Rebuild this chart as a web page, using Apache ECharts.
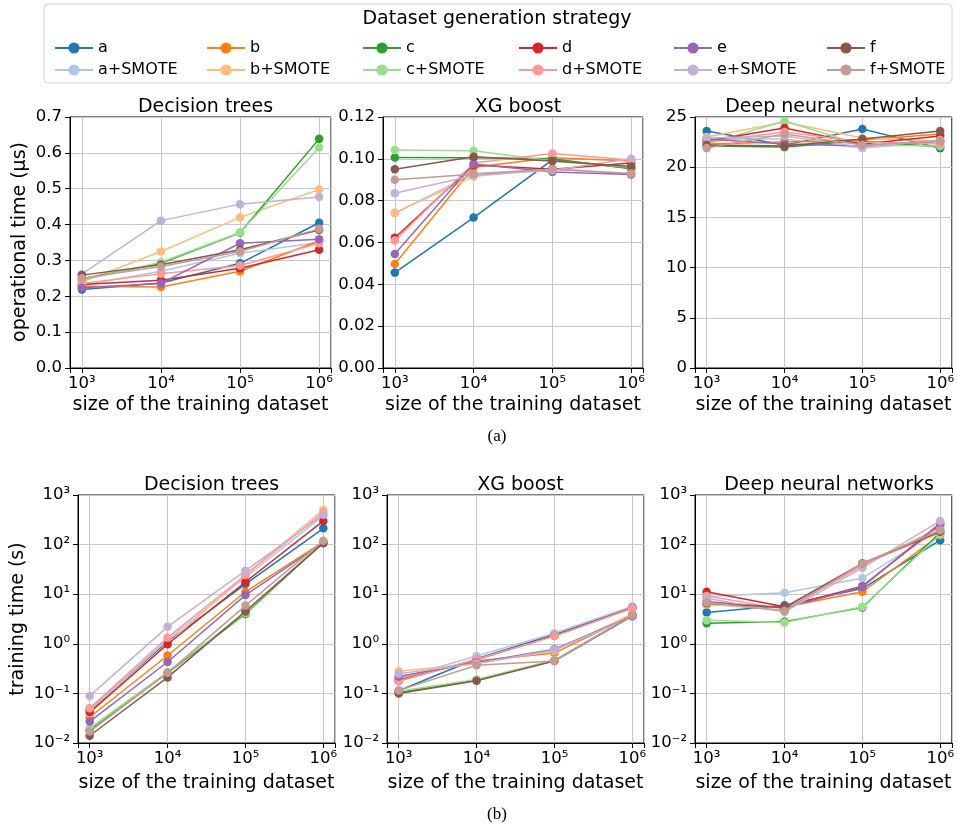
<!DOCTYPE html>
<html><head><meta charset="utf-8">
<script src="https://cdn.jsdelivr.net/npm/echarts@6/dist/echarts.min.js"></script>
<style>html,body{margin:0;padding:0;background:#fff}#c{width:957px;height:828px}</style>
</head><body><div id="c"></div>
<script>
const seriesNames = ['a','a+SMOTE','b','b+SMOTE','c','c+SMOTE','d','d+SMOTE','e','e+SMOTE','f','f+SMOTE'];
const colors = ['#1f77b4','#aec7e8','#ff7f0e','#ffbb78','#2ca02c','#98df8a','#d62728','#ff9896','#9467bd','#c5b0d5','#8c564b','#c49c94'];
const sizes = [1e3, 1e4, 1e5, 1e6];
const panelTitles = ['Decision trees','XG boost','Deep neural networks'];

// operational time (µs)
const opDT = [
  [0.219,0.237,0.292,0.405],[0.230,0.270,0.320,0.350],
  [0.228,0.226,0.270,0.355],[0.240,0.325,0.420,0.498],
  [0.248,0.292,0.377,0.639],[0.245,0.295,0.378,0.615],
  [0.233,0.245,0.278,0.330],[0.236,0.263,0.286,0.348],
  [0.224,0.236,0.348,0.359],[0.262,0.411,0.457,0.477],
  [0.259,0.288,0.330,0.385],[0.250,0.283,0.325,0.388]
];
const opXG = [
  [0.0456,0.0719,0.0995,0.0955],[0.0740,0.0930,0.0950,0.0930],
  [0.0497,0.0960,0.1005,0.0990],[0.0742,0.0915,0.0955,0.0925],
  [0.1006,0.1005,0.1000,0.0952],[0.1042,0.1039,0.0990,0.0960],
  [0.0623,0.0970,0.0950,0.0980],[0.0609,0.0980,0.1026,0.0995],
  [0.0545,0.0975,0.0937,0.0925],[0.0835,0.0920,0.0945,0.1000],
  [0.0950,0.1010,0.0990,0.0963],[0.0900,0.0926,0.0950,0.0930]
];
const opDNN = [
  [23.6,22.2,23.8,21.9],[22.8,22.8,21.9,22.5],
  [22.3,22.5,22.7,23.3],[23.0,24.5,22.9,22.6],
  [22.1,22.0,22.6,22.0],[22.3,24.6,22.2,22.1],
  [22.6,23.9,22.3,23.1],[22.5,23.5,22.5,22.3],
  [22.8,22.3,22.1,22.6],[22.9,23.1,22.0,22.7],
  [22.2,22.1,22.8,23.6],[21.9,23.3,22.2,22.6]
];
// training time (s)
const trDT = [
  [0.048,1.1,16,213],[0.046,1.2,22,380],
  [0.033,0.58,11.2,113],[0.040,1.0,25,500],
  [0.018,0.26,4.0,110],[0.020,0.27,4.2,115],
  [0.042,0.98,17.6,300],[0.050,1.33,24.4,440],
  [0.027,0.43,9.6,110],[0.089,2.2,29.8,400],
  [0.014,0.21,4.5,107],[0.017,0.26,5.9,120]
];
const trXG = [
  [0.113,0.50,1.55,5.5],[0.20,0.57,1.63,5.7],
  [0.19,0.45,0.65,3.8],[0.28,0.40,0.72,4.0],
  [0.105,0.186,0.46,3.6],[0.11,0.19,0.47,3.7],
  [0.18,0.48,1.45,5.3],[0.175,0.49,1.43,5.2],
  [0.22,0.42,0.78,3.6],[0.25,0.40,0.75,3.5],
  [0.10,0.18,0.45,3.7],[0.115,0.37,0.45,3.8]
];
const trDNN = [
  [4.3,6.0,13,123],[9.0,10.7,21,200],
  [6.2,5.5,11.2,155],[6.3,4.8,40,170],
  [2.6,2.8,5.4,175],[3.0,2.7,5.6,160],
  [11.2,5.6,14.5,250],[9.2,5.0,37,220],
  [7.1,5.3,14,270],[8.3,4.4,34,300],
  [6.6,5.4,42,182],[6.8,4.6,41.6,195]
];
const topYMax = [0.7, 0.12, 25];
const topYInterval = [0.1, 0.02, 5];
const topYDecimals = [1, 2, 0];

const FONT = 'DejaVu Sans';
const sup = {'-':'⁻','0':'⁰','1':'¹','2':'²','3':'³','4':'⁴','5':'⁵','6':'⁶','7':'⁷','8':'⁸','9':'⁹'};
function powLabel(v){
  const e = Math.log10(v);
  const r = Math.round(e);
  if (Math.abs(e - r) > 1e-6) return '';
  return '10' + String(r).split('').map(c => sup[c]).join('');
}

const grids = [
  {left:70, top:117, width:261, height:251},
  {left:383, top:117, width:260, height:251},
  {left:695, top:117, width:260, height:251},
  {left:78, top:495, width:257, height:248},
  {left:387, top:495, width:257, height:248},
  {left:695, top:495, width:258, height:248}
];
const panelData = [opDT, opXG, opDNN, trDT, trXG, trDNN];

const axisCommon = {
  axisLine:{show:true, lineStyle:{color:'#000', width:1}},
  axisTick:{show:true, inside:false, length:5, lineStyle:{color:'#000', width:1}},
  splitLine:{show:true, lineStyle:{color:'#c8c8c8', width:1}},
  axisLabel:{color:'#000', fontFamily:FONT, fontSize:16.5}
};

const xAxes = [], yAxes = [], titles = [], series = [];
grids.forEach((g, p) => {
  const bottomRow = p >= 3;
  xAxes.push(Object.assign({}, axisCommon, {
    gridIndex:p, type:'log', logBase:10,
    min:Math.pow(10,2.85), max:Math.pow(10,6.15),
    axisLabel:Object.assign({}, axisCommon.axisLabel, {margin:7, formatter:powLabel, showMinLabel:true, showMaxLabel:true}),
    name:'size of the training dataset', nameLocation:'middle', nameGap: bottomRow ? 31 : 28,
    nameTextStyle:{color:'#000', fontFamily:FONT, fontSize:19}
  }));
  if (!bottomRow) {
    const dec = topYDecimals[p];
    yAxes.push(Object.assign({}, axisCommon, {
      gridIndex:p, type:'value', min:0, max:topYMax[p], interval:topYInterval[p],
      axisLabel:Object.assign({}, axisCommon.axisLabel, {margin:8, formatter:v => v.toFixed(dec)})
    }));
  } else {
    yAxes.push(Object.assign({}, axisCommon, {
      gridIndex:p, type:'log', logBase:10, min:0.01, max:1000,
      axisLabel:Object.assign({}, axisCommon.axisLabel, {margin:8, formatter:powLabel})
    }));
  }
  titles.push({
    text: panelTitles[p % 3],
    left: g.left + g.width/2, textAlign:'center',
    top: bottomRow ? 471 : 93,
    textStyle:{color:'#000', fontFamily:FONT, fontSize:19, fontWeight:'normal'}
  });
  panelData[p].forEach((row, i) => {
    series.push({
      type:'line', name:seriesNames[i], xAxisIndex:p, yAxisIndex:p,
      data: sizes.map((x, k) => [x, row[k]]),
      symbol:'circle', symbolSize:8.5, showSymbol:true,
      itemStyle:{color:colors[i]}, lineStyle:{color:colors[i], width:1.5},
      emphasis:{disabled:true}, z: 2 + i*0.01, animation:false
    });
  });
});

const legendX = [49, 201, 357, 513, 668, 821];
const legends = legendX.map((x, j) => ({
  orient:'vertical', left:x, top:35,
  data:[seriesNames[2*j], seriesNames[2*j+1]],
  itemWidth:38, itemHeight:14, itemGap:6,
  textStyle:{color:'#000', fontFamily:FONT, fontSize:16},
  selectedMode:false
}));

const option = {
  backgroundColor:'#fff',
  animation:false,
  title: titles,
  grid: grids.map(g => Object.assign({show:true, borderColor:'#000', borderWidth:1, backgroundColor:'transparent'}, g)),
  xAxis: xAxes, yAxis: yAxes,
  legend: legends,
  series: series,
  graphic: [
    {type:'rect', z:-1, shape:{x:44, y:4, width:908, height:79, r:4}, style:{fill:'#fff', stroke:'#d3d3d3', lineWidth:1}},
    {type:'text', x:497, y:19, style:{text:'Dataset generation strategy', fill:'#000', font:'19px "DejaVu Sans"', textAlign:'center', textVerticalAlign:'middle'}},
    {type:'text', x:20, y:242, rotation:Math.PI/2, style:{text:'operational time (μs)', fill:'#000', font:'19px "DejaVu Sans"', textAlign:'center', textVerticalAlign:'middle'}},
    {type:'text', x:18, y:619, rotation:Math.PI/2, style:{text:'training time (s)', fill:'#000', font:'19px "DejaVu Sans"', textAlign:'center', textVerticalAlign:'middle'}},
    {type:'text', x:497, y:437, style:{text:'(a)', fill:'#000', font:'17px "Liberation Serif"', textAlign:'center', textVerticalAlign:'middle'}},
    {type:'text', x:497, y:815, style:{text:'(b)', fill:'#000', font:'17px "Liberation Serif"', textAlign:'center', textVerticalAlign:'middle'}}
  ]
};
const chart = echarts.init(document.getElementById('c'), null, {renderer:'canvas'});
chart.setOption(option);
</script>
</body></html>
